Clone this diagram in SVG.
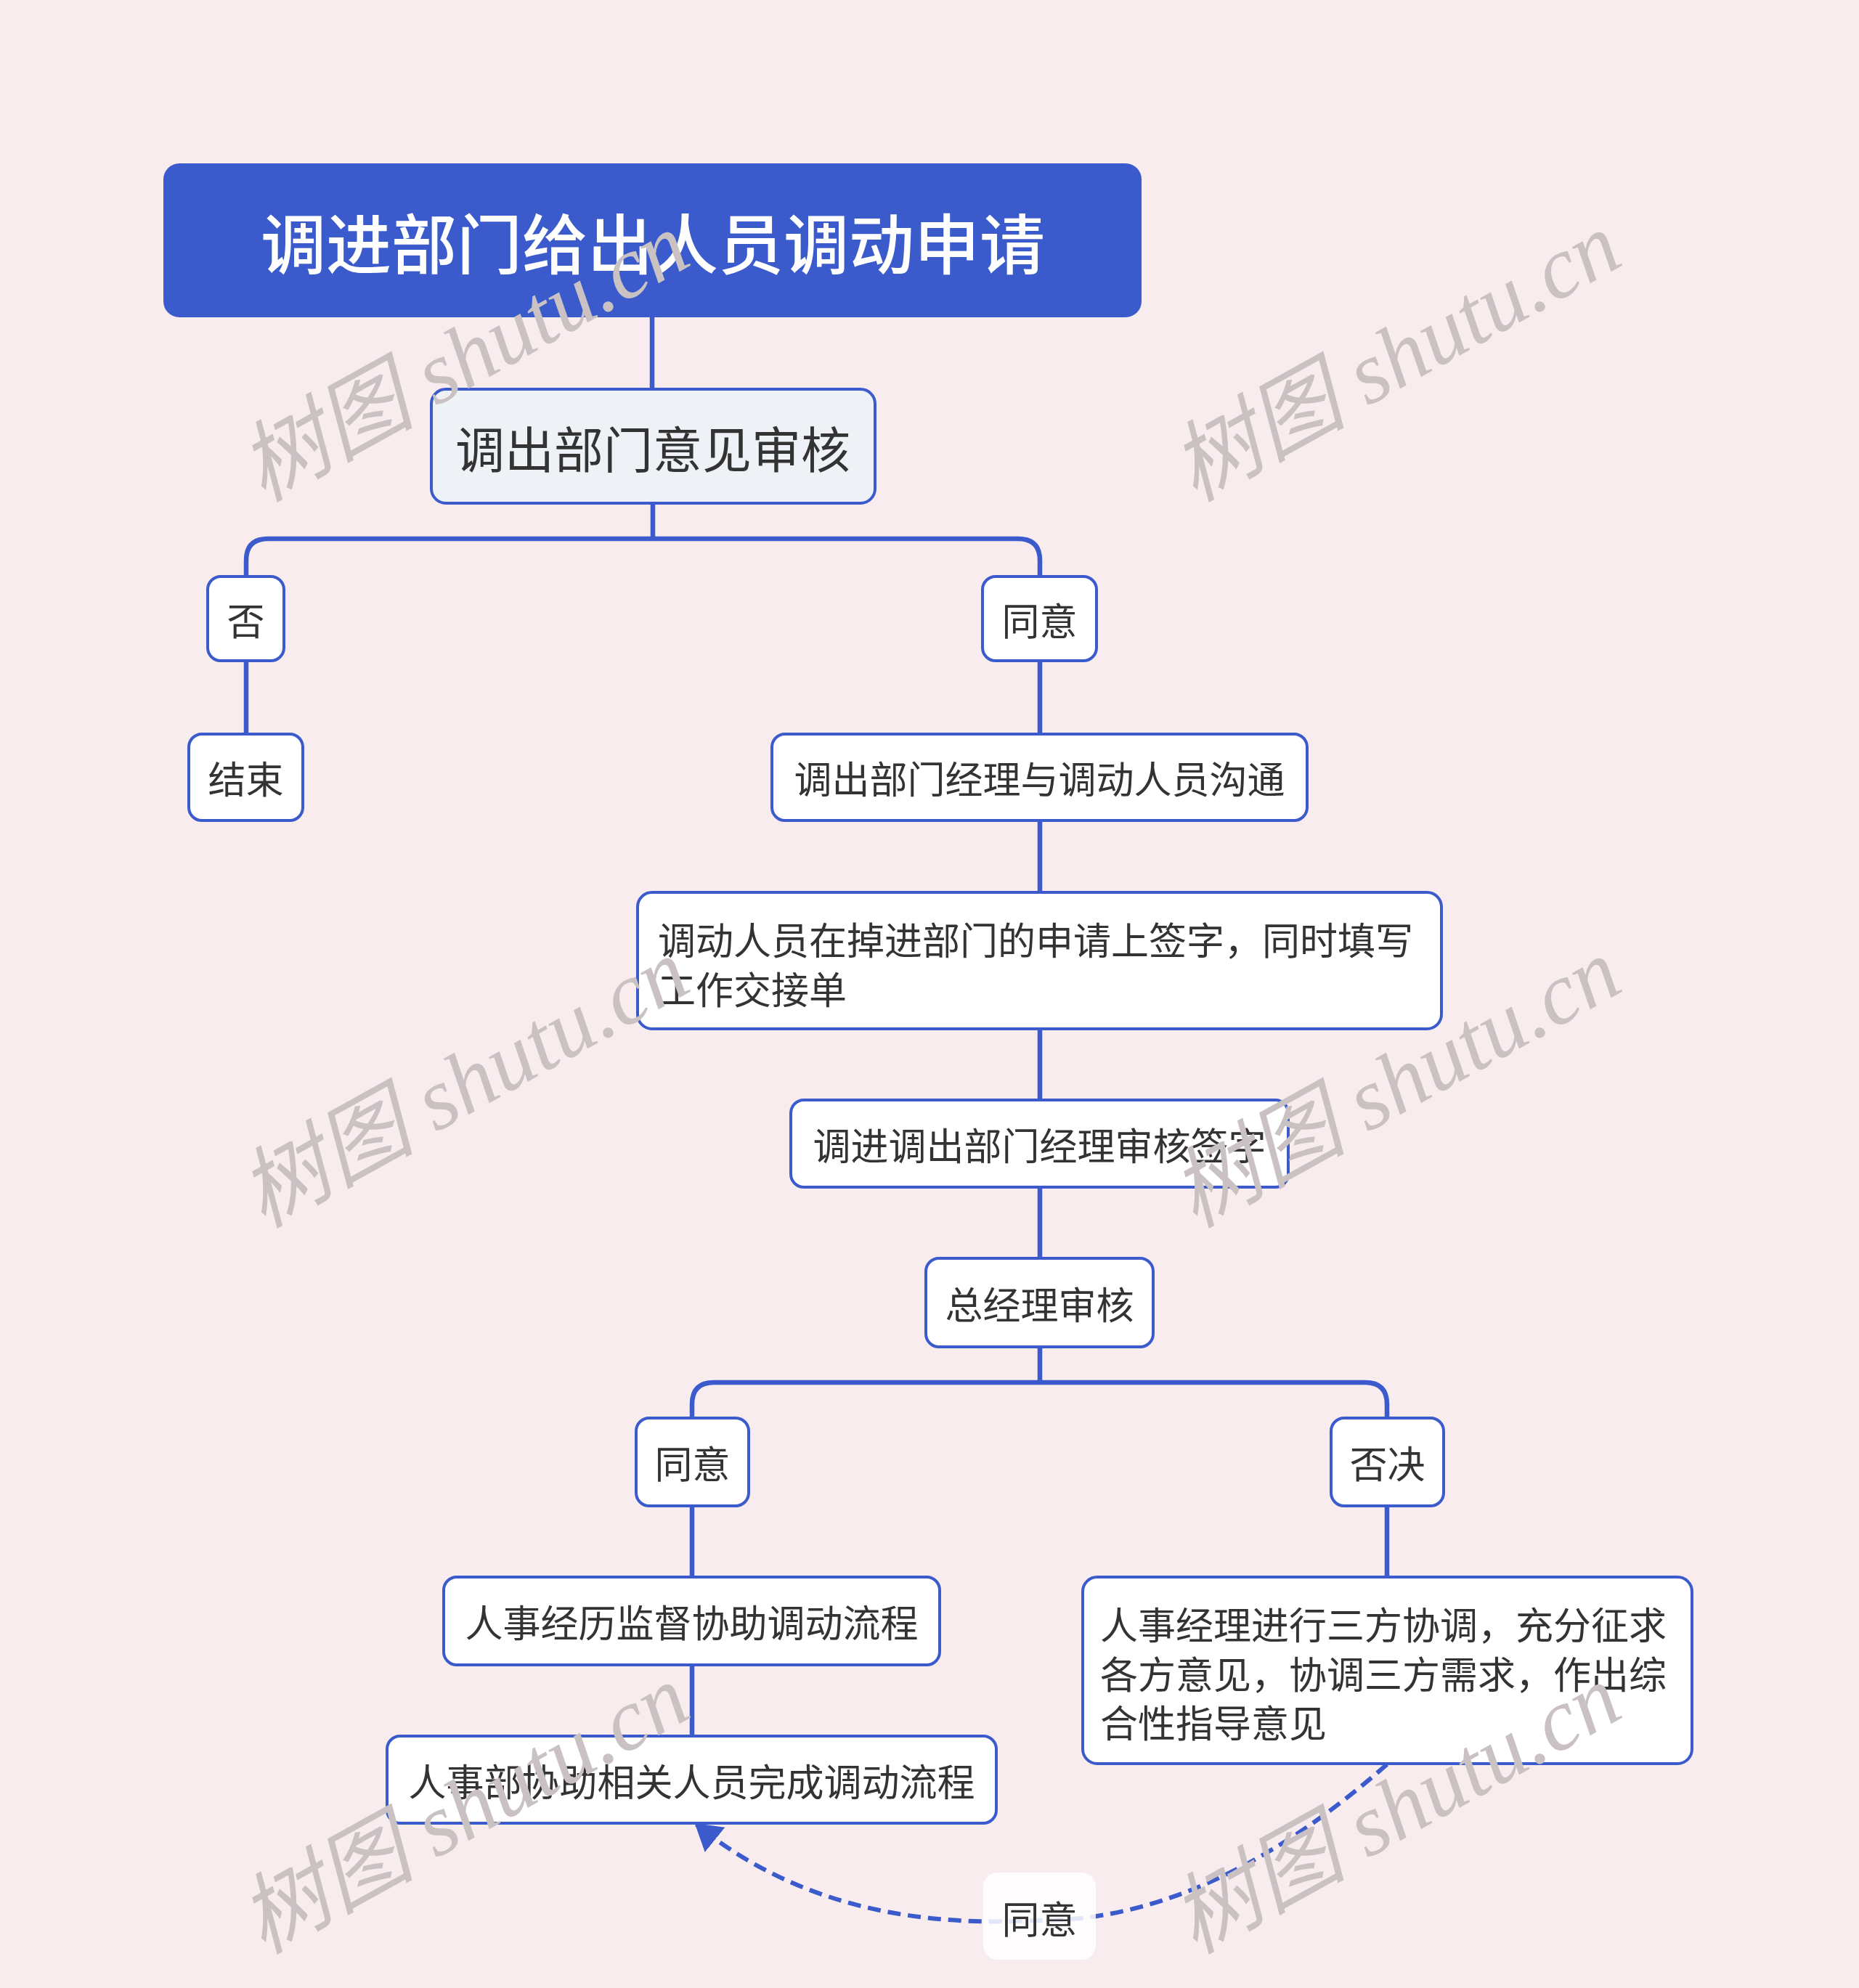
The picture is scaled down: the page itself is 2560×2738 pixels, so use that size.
<svg xmlns="http://www.w3.org/2000/svg" width="2560" height="2738" viewBox="0 0 2560 2738">
<defs>
<style>
.bg{fill:#f8ecee}
.wm{font-family:"Liberation Serif","Noto Sans CJK SC",serif;font-style:italic;font-size:121px;fill:#c9c1c2}
.node{fill:#ffffff;stroke:#3b5bcc;stroke-width:4}
.t{font-family:"Noto Sans CJK SC","Noto Sans",sans-serif;fill:#333333;font-size:52px;dominant-baseline:central}
.c{text-anchor:middle}
.conn{fill:none;stroke:#3b5bcc;stroke-width:6.5}
.dash{fill:none;stroke:#3b5bcc;stroke-width:6;stroke-dasharray:18 10}
</style>
<marker id="arr" markerUnits="userSpaceOnUse" viewBox="0 0 36 44" refX="33" refY="22" markerWidth="36" markerHeight="44" orient="auto">
<path d="M0,0 L36,22 L0,44 z" fill="#3b5bcc"/>
</marker>
</defs>
<rect class="bg" x="0" y="0" width="2560" height="2738"/>

<g id="connectors">
<path class="conn" d="M898,437 V536"/>
<path class="conn" d="M899,693 V742 M899,742 H369 Q339,742 339,772 V794 M899,742 H1402 Q1432,742 1432,772 V794"/>
<path class="conn" d="M339,910 V1011"/>
<path class="conn" d="M1432,910 V1011"/>
<path class="conn" d="M1432,1130 V1229"/>
<path class="conn" d="M1432,1417 V1515"/>
<path class="conn" d="M1432,1635 V1733"/>
<path class="conn" d="M1432,1855 V1904 M1432,1904 H983 Q953,1904 953,1934 V1953 M1432,1904 H1880 Q1910,1904 1910,1934 V1953"/>
<path class="conn" d="M953,2074 V2172"/>
<path class="conn" d="M953,2293 V2391"/>
<path class="conn" d="M1910,2074 V2172"/>
<path class="dash" d="M1910,2430 Q1660,2650 1420,2645 Q1140,2660 959,2513" marker-end="url(#arr)"/>
</g>

<g id="root">
<rect x="225" y="225" width="1347" height="212" rx="22" fill="#3b5bcc"/>
<text class="t c" x="899" y="331" style="font-size:90px;fill:#ffffff;font-weight:500">调进部门给出人员调动申请</text>
</g>
<g id="n-review">
<rect class="node" x="594" y="536" width="611" height="157" rx="20" style="fill:#eef1f5"/>
<text class="t c" x="899" y="615" style="font-size:68px">调出部门意见审核</text>
</g>
<g id="n-no">
<rect class="node" x="286" y="794" width="105" height="116" rx="18"/>
<text class="t c" x="338.5" y="852">否</text>
</g>
<g id="n-agree1">
<rect class="node" x="1353" y="794" width="157" height="116" rx="18"/>
<text class="t c" x="1431.5" y="852">同意</text>
</g>
<g id="n-end">
<rect class="node" x="260" y="1011" width="157" height="119" rx="18"/>
<text class="t c" x="338.5" y="1070">结束</text>
</g>
<g id="n-communicate">
<rect class="node" x="1063" y="1011" width="737" height="119" rx="18"/>
<text class="t c" x="1431.5" y="1070">调出部门经理与调动人员沟通</text>
</g>
<g id="n-sign">
<rect class="node" x="878" y="1229" width="1107" height="188" rx="20"/>
<text class="t" x="906" y="1292">调动人员在掉进部门的申请上签字，同时填写</text>
<text class="t" x="906" y="1360">工作交接单</text>
</g>
<g id="n-managers">
<rect class="node" x="1089" y="1515" width="685" height="120" rx="18"/>
<text class="t c" x="1431.5" y="1575">调进调出部门经理审核签字</text>
</g>
<g id="n-gm">
<rect class="node" x="1275" y="1733" width="313" height="122" rx="18"/>
<text class="t c" x="1431.5" y="1794">总经理审核</text>
</g>
<g id="n-agree2">
<rect class="node" x="876" y="1953" width="155" height="121" rx="18"/>
<text class="t c" x="953.5" y="2013">同意</text>
</g>
<g id="n-reject">
<rect class="node" x="1833" y="1953" width="155" height="121" rx="18"/>
<text class="t c" x="1910.5" y="2013">否决</text>
</g>
<g id="n-hr-supervise">
<rect class="node" x="611" y="2172" width="683" height="121" rx="18"/>
<text class="t c" x="952.5" y="2232">人事经历监督协助调动流程</text>
</g>
<g id="n-hr-coordinate">
<rect class="node" x="1491" y="2172" width="839" height="257" rx="20"/>
<text class="t" x="1515" y="2235">人事经理进行三方协调，充分征求</text>
<text class="t" x="1515" y="2303">各方意见，协调三方需求，作出综</text>
<text class="t" x="1515" y="2370">合性指导意见</text>
</g>
<g id="n-hr-complete">
<rect class="node" x="533" y="2391" width="839" height="120" rx="18"/>
<text class="t c" x="952.5" y="2451">人事部协助相关人员完成调动流程</text>
</g>
<g id="label-agree">
<rect x="1354" y="2579" width="155" height="120" rx="20" fill="#ffffff" fill-opacity="0.85"/>
<text class="t c" x="1431.5" y="2640">同意</text>
</g>

<g id="watermarks">
<text class="wm" transform="translate(362,692) rotate(-29)">树图 shutu.cn</text>
<text class="wm" transform="translate(1645,692) rotate(-29)">树图 shutu.cn</text>
<text class="wm" transform="translate(362,1692) rotate(-29)">树图 shutu.cn</text>
<text class="wm" transform="translate(1645,1692) rotate(-29)">树图 shutu.cn</text>
<text class="wm" transform="translate(362,2692) rotate(-29)">树图 shutu.cn</text>
<text class="wm" transform="translate(1645,2692) rotate(-29)">树图 shutu.cn</text>
</g>
</svg>
